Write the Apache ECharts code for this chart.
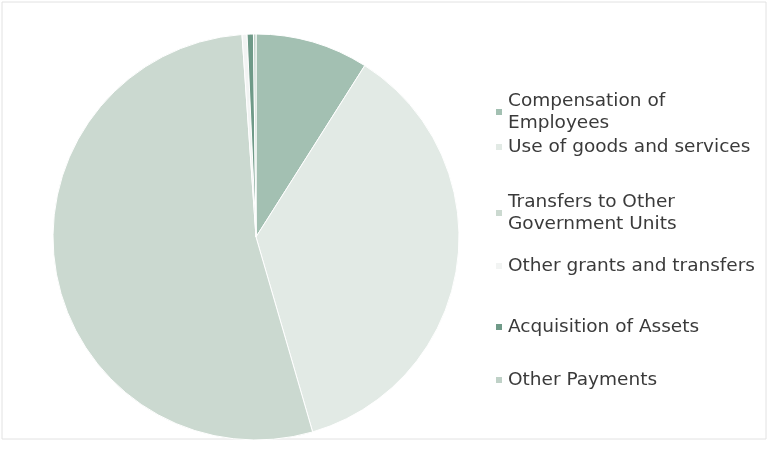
<!DOCTYPE html>
<html>
<head>
<meta charset="utf-8">
<script src="https://cdn.jsdelivr.net/npm/echarts@6/dist/echarts.min.js"></script>
<style>
html,body{margin:0;padding:0;background:#fff;}
#chart{width:769px;height:468px;}
</style>
</head>
<body>
<div id="chart"></div>
<script>
const categories = ["Compensation of Employees", "Use of goods and services", "Transfers to Other Government Units", "Other grants and transfers", "Acquisition of Assets", "Other Payments"];
const legendLabels = ["Compensation of\nEmployees", "Use of goods and services", "Transfers to Other\nGovernment Units", "Other grants and transfers", "Acquisition of Assets", "Other Payments"];
const values = [9.0, 36.5, 53.4, 0.4, 0.5, 0.2];
const colors = ["#a3c0b2", "#e2eae5", "#cbd9d0", "#f2f4f3", "#6f9a88", "#bfd1c7"];
const legendTops = [85, 131, 186, 250, 311, 364];

const chart = echarts.init(document.getElementById('chart'));
const legends = categories.map((c, i) => ({
  data: [c],
  orient: 'vertical',
  left: 489,
  top: legendTops[i],
  itemWidth: 8,
  itemHeight: 8,
  icon: 'rect',
  selectedMode: false,
  formatter: () => legendLabels[i],
  textStyle: {fontFamily: 'DejaVu Sans', fontSize: 18.5, color: '#3a3a3a', lineHeight: 22, padding: [0,0,0,0]}
}));
chart.setOption({
  backgroundColor: '#fff',
  animation: false,
  color: colors,
  legend: legends,
  graphic: [{type: 'rect', shape: {x: 2, y: 2, width: 764, height: 437}, style: {fill: 'none', stroke: '#e2e2e2', lineWidth: 1}, silent: true}],
  series: [{
    type: 'pie',
    center: [256, 237],
    radius: 203,
    startAngle: 90,
    clockwise: true,
    label: {show: false},
    labelLine: {show: false},
    itemStyle: {borderColor: '#ffffff', borderWidth: 1},
    data: categories.map((c, i) => ({name: c, value: values[i]}))
  }]
});
</script>
</body>
</html>
